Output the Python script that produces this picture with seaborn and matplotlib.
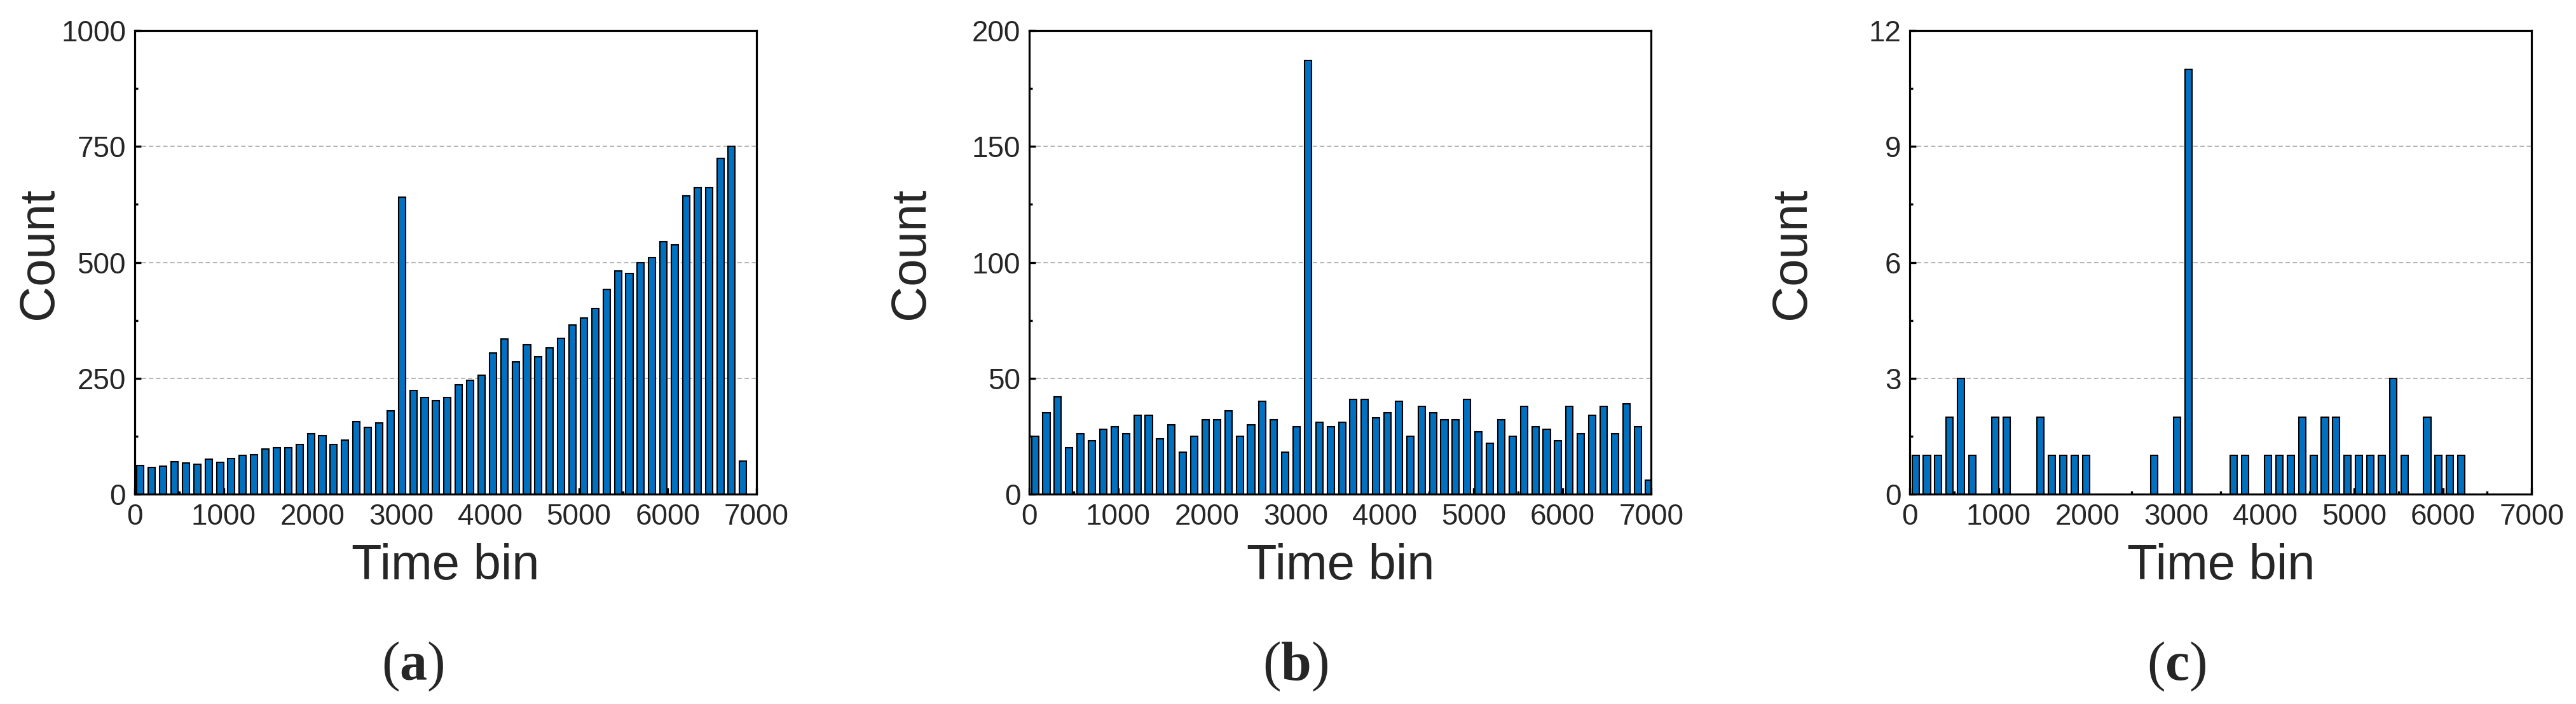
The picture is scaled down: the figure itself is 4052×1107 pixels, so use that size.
import numpy as np
import pandas as pd
import seaborn as sns
import matplotlib.pyplot as plt
from matplotlib.ticker import MultipleLocator

# width of one time bin
bin_width = 128

# counts per time bin
counts_a = [62, 58, 60, 70, 67, 64, 76, 68, 77, 83, 85, 98, 100, 100, 107, 131, 126, 107, 116,
            157, 144, 154, 180, 641, 224, 208, 202, 209, 236, 245, 257, 305, 335, 286, 322, 297, 316,
            336, 365, 380, 401, 442, 482, 476, 500, 510, 544, 538, 643, 661, 661, 725, 750, 71]
counts_b = [25, 35, 42, 20, 26, 23, 28, 29, 26, 34, 34, 24, 30, 18, 25, 32, 32, 36,
            25, 30, 40, 32, 18, 29, 187, 31, 29, 31, 41, 41, 33, 35, 40, 25, 38, 35, 32,
            32, 41, 27, 22, 32, 25, 38, 29, 28, 23, 38, 26, 34, 38, 26, 39, 29, 6]
counts_c = [1, 1, 1, 2, 3, 1, 0, 2, 2, 0, 0, 2, 1, 1, 1, 1, 0, 0, 0, 0, 0, 1, 0, 2, 11, 0, 0,
            0, 1, 1, 0, 1, 1, 1, 2, 1, 2, 2, 1, 1, 1, 1, 3, 1, 0, 2, 1, 1, 1, 0, 0, 0, 0, 0]

y_max = [1000, 200, 12]
y_step = [250, 50, 3]
panel_names = ["a", "b", "c"]

sns.set_theme(style="white")
plt.rcParams["font.family"] = ["Liberation Sans", "DejaVu Sans"]
plt.rcParams["mathtext.fontset"] = "custom"
plt.rcParams["mathtext.rm"] = "Liberation Serif"
plt.rcParams["mathtext.bf"] = "Liberation Serif:bold"

fig = plt.figure(figsize=(40.52, 11.07), dpi=100)

lefts = [0.0523, 0.3996, 0.7414]
ylabel_x = [-0.154, -0.191, -0.190]
label_x = [0.1602, 0.5030, 0.8450]

for i, counts in enumerate([counts_a, counts_b, counts_c]):
    ax = fig.add_axes([lefts[i], 0.2981, 0.2414, 0.6585])
    n = len(counts)
    df = pd.DataFrame({"time_bin": bin_width * (np.arange(n) + 0.5), "count": counts})
    sns.histplot(data=df, x="time_bin", weights="count", binwidth=bin_width,
                 binrange=(0, n * bin_width), shrink=0.62, ax=ax,
                 color="#0070C0", edgecolor="black", linewidth=1.5, alpha=1)

    ax.set_xlim(0, 7000)
    ax.set_ylim(0, y_max[i])
    ax.xaxis.set_major_locator(MultipleLocator(1000))
    ax.xaxis.set_minor_locator(MultipleLocator(500))
    ax.yaxis.set_major_locator(MultipleLocator(y_step[i]))
    ax.yaxis.set_minor_locator(MultipleLocator(y_step[i] / 2))
    ax.tick_params(which="both", direction="in", top=False, right=False,
                   bottom=True, left=True, width=2.4, color="black",
                   labelsize=33, pad=10)
    ax.tick_params(which="major", length=7.5)
    ax.tick_params(which="minor", length=3.8)
    ax.grid(axis="y", which="major", color="#a0a0a0", linestyle=(0, (4.5, 2.8)), linewidth=1.1)
    ax.grid(axis="x", visible=False)
    ax.set_axisbelow(True)
    for s in ax.spines.values():
        s.set_linewidth(2.3)
        s.set_color("black")

    ax.set_xlabel("Time bin", fontsize=56, labelpad=14)
    ax.set_ylabel("Count", fontsize=56, va="center")
    ax.yaxis.set_label_coords(ylabel_x[i], 0.52)

    fig.text(label_x[i], 0.0533, r"($\mathbf{" + panel_names[i] + "}$)",
             fontsize=62, family="Liberation Serif", ha="center", va="center")

fig.savefig("out.png", dpi=100, facecolor="white")
